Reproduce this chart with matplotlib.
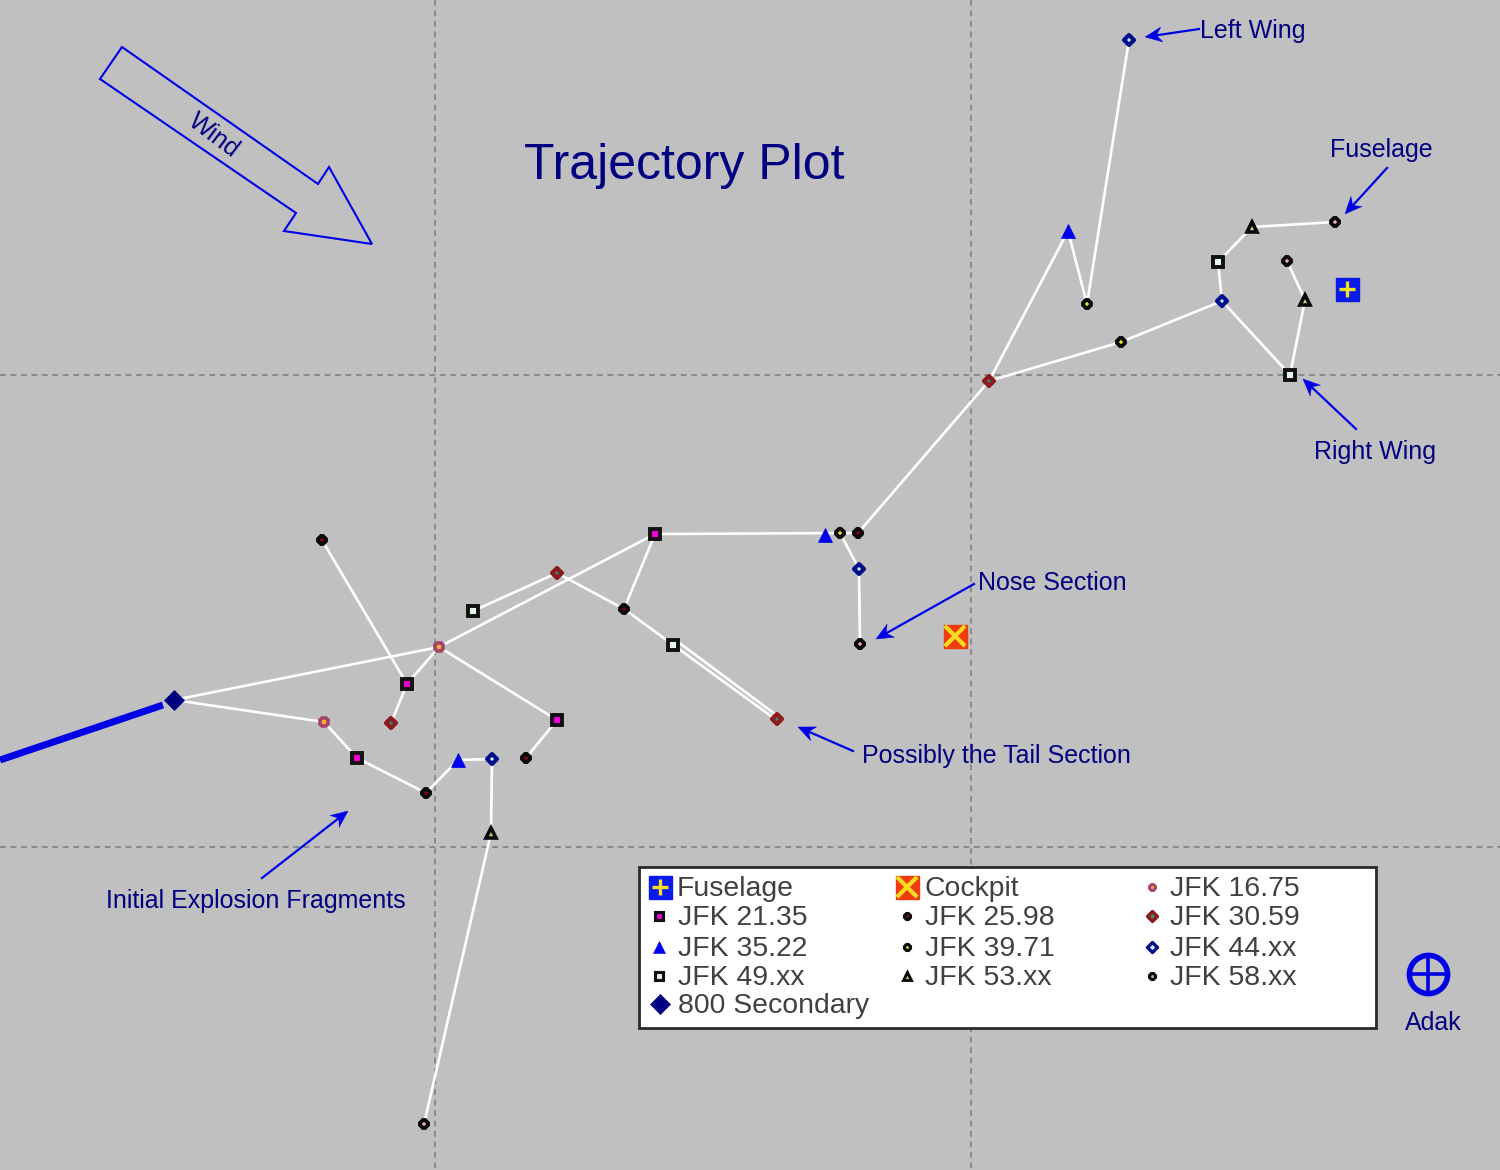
import matplotlib
matplotlib.use('Agg')
import numpy as np
import matplotlib.pyplot as plt
from matplotlib.markers import MarkerStyle
from matplotlib.patches import Polygon, Rectangle

plt.rcParams['font.family'] = ['Liberation Sans', 'DejaVu Sans']

BG = '#c0c0c0'
NAVY = '#000080'
BLUE = '#0000e6'

grid_x = [435, 971]
grid_y = [375, 847]

# white connecting tracks
track_a = [(174, 700), (324, 722), (357, 758), (426, 793), (458, 760), (492, 759), (491, 833), (424, 1124)]
track_b = [(174, 700), (439, 647), (407, 684), (322, 540)]
track_c = [(407, 684), (391, 723)]
track_d = [(439, 647), (557, 720), (526, 758)]
track_e = [(439, 647), (655, 534), (624, 609), (775, 719)]
track_j = [(473, 611), (557, 573), (624, 609)]
track_k = [(674, 639), (775, 714)]
track_f = [(655, 534), (858, 533), (989, 381), (1068, 231), (1087, 304), (1129, 40)]
track_g = [(989, 381), (1121, 342), (1222, 301), (1218, 262), (1252, 227), (1335, 222)]
track_h = [(1222, 301), (1290, 375), (1305, 300), (1287, 261)]
track_i = [(840, 533), (859, 569), (860, 644)]
tracks = [track_a, track_b, track_c, track_d, track_e, track_j, track_k, track_f, track_g, track_h, track_i]

# breakup points for each series
jfk_1675 = [(324, 722), (439, 647)]
jfk_2135 = [(357, 758), (407, 684), (557, 720), (655, 534)]
jfk_2598 = [(426, 793), (322, 540), (526, 758), (624, 609), (858, 533)]
jfk_3059 = [(391, 723), (557, 573), (777, 719), (989, 381)]
jfk_3522 = [(458, 760), (825, 535), (1068, 231)]
jfk_3971 = [(840, 533), (1087, 304), (1121, 342)]
jfk_44 = [(492, 759), (859, 569), (1222, 301), (1129, 40)]
jfk_49 = [(473, 611), (673, 645), (1218, 262), (1290, 375)]
jfk_53 = [(491, 833), (1252, 227), (1305, 300)]
jfk_58 = [(424, 1124), (860, 644), (1335, 222), (1287, 261)]
secondary = [(174, 700)]
fuselage = [(1347, 289)]
cockpit = [(955, 636)]
adak = [(1428, 974)]

approach_x = [0, 163]
approach_y = [760, 705]

# name, points, marker, size, edge, face, edge width
series = [
    ('JFK 16.75', jfk_1675, '8', 6.0, '#a5436b', '#f2b233', 2.6),
    ('JFK 21.35', jfk_2135, 's', 6.5, '#111111', '#ee00d0', 2.8),
    ('JFK 25.98', jfk_2598, '8', 5.5, '#0a0a0a', '#8a0010', 2.8),
    ('JFK 30.59', jfk_3059, 'D', 5.5, '#8c1c1c', '#3f7f80', 3.0),
    ('JFK 35.22', jfk_3522, '^', 10.5, '#0000ee', '#0000ee', 0.5),
    ('JFK 39.71', jfk_3971, '8', 5.5, '#0a0a0a', '#e8e020', 2.8),
    ('JFK 44.xx', jfk_44, 'D', 5.5, '#00108c', '#d8e8ff', 3.0),
    ('JFK 49.xx', jfk_49, 's', 6.5, '#111111', '#e4f8e8', 2.8),
    ('JFK 53.xx', jfk_53, '^', 7.5, '#0a0a0a', '#d8d070', 2.6),
    ('JFK 58.xx', jfk_58, '8', 5.5, '#0a0a0a', '#f0a8c8', 2.8),
]

wind_arrow = [(122, 47), (100, 79), (296, 213), (284, 231), (372, 244), (329, 167), (318, 184)]

# label, text x, text y, alignment, arrow start, arrow tip
callouts = [
    ('Left Wing', 1200, 31, 'left', (1199, 29), (1145, 37)),
    ('Fuselage', 1381, 150, 'center', (1387, 168), (1345, 214)),
    ('Right Wing', 1375, 452, 'center', (1356, 429), (1303, 379)),
    ('Nose Section', 978, 583, 'left', (974, 584), (876, 639)),
    ('Possibly the Tail Section', 862, 756, 'left', (853, 751), (798, 727)),
    ('Initial Explosion Fragments', 106, 901, 'left', (262, 878), (348, 811)),
]

legend_box = (639, 867, 737, 161)
legend_rows = [887, 916, 947, 976, 1004]
legend_marker_x = [659, 907, 1152]
legend_text_x = [678, 925, 1170]
# series index -> (column, row)
legend_layout = {1: (0, 1), 4: (0, 2), 7: (0, 3),
                 0: (2, 0), 3: (2, 1), 6: (2, 2), 9: (2, 3),
                 2: (1, 1), 5: (1, 2), 8: (1, 3)}


def fuselage_icon(ax, x, y, size=23):
    h = size / 2
    ax.add_patch(Rectangle((x - h, y - h), size, size, fc='#0a1aee', ec='#0a1aee', zorder=6))
    ax.plot([x - h * 0.7, x + h * 0.7], [y, y], color='#f5e020', lw=2.4, zorder=7, solid_capstyle='butt')
    ax.plot([x, x], [y - h * 0.7, y + h * 0.7], color='#f5e020', lw=2.4, zorder=7, solid_capstyle='butt')


def cockpit_icon(ax, x, y, size=23):
    h = size / 2
    ax.add_patch(Rectangle((x - h, y - h), size, size, fc='#f03a10', ec='#f03a10', zorder=6))
    ax.plot([x - h * 0.75, x + h * 0.75], [y - h * 0.75, y + h * 0.75], color='#f8dc20', lw=3, zorder=7)
    ax.plot([x - h * 0.75, x + h * 0.75], [y + h * 0.75, y - h * 0.75], color='#f8dc20', lw=3, zorder=7)


def barbed_arrow(ax, start, tip, length=17, half_width=7.5):
    # swept back head, the plain matplotlib heads have no notch
    start = np.array(start, dtype=float)
    tip = np.array(tip, dtype=float)
    u = (tip - start) / np.linalg.norm(tip - start)
    n = np.array([-u[1], u[0]])
    neck = tip - 0.68 * length * u
    ax.plot([start[0], neck[0]], [start[1], neck[1]], color=BLUE, lw=1.6, zorder=8)
    head = [tip, tip - length * u + half_width * n, neck, tip - length * u - half_width * n]
    ax.add_patch(Polygon(head, closed=True, fc=BLUE, ec=BLUE, lw=0.3, zorder=8))


def marker_style(marker):
    if marker == 'D':
        return MarkerStyle(marker, joinstyle='round')
    return marker


fig = plt.figure(figsize=(15, 11.7), dpi=100, facecolor=BG)
ax = fig.add_axes([0, 0, 1, 1])
ax.set_xlim(0, 1500)
ax.set_ylim(1170, 0)
ax.set_facecolor(BG)
ax.axis('off')

# dashed crosshair lines
for gx in grid_x:
    ax.plot([gx, gx], [0, 1170], color='#868686', lw=1.3, dashes=(3.2, 2.6), zorder=1)
for gy in grid_y:
    ax.plot([0, 1500], [gy, gy], color='#868686', lw=1.3, dashes=(3.2, 2.6), zorder=1)

for track in tracks:
    ax.plot([p[0] for p in track], [p[1] for p in track], color='white', lw=1.9, zorder=2)

ax.plot(approach_x, approach_y, color=BLUE, lw=5, solid_capstyle='butt', zorder=2)

for name, pts, marker, size, edge, face, ew in series:
    ax.plot([p[0] for p in pts], [p[1] for p in pts], ls='none', marker=marker_style(marker), ms=size,
            mec=edge, mfc=face, mew=ew, zorder=4, label=name)

ax.plot([p[0] for p in secondary], [p[1] for p in secondary], ls='none', marker='D', ms=10,
        mfc=NAVY, mec=NAVY, mew=0.5, zorder=5)
fuselage_icon(ax, fuselage[0][0], fuselage[0][1])
cockpit_icon(ax, cockpit[0][0], cockpit[0][1])

# wind arrow
ax.add_patch(Polygon(wind_arrow, closed=True, fill=False, ec=BLUE, lw=1.5, zorder=3))
ax.text(214, 136, 'Wind', color=NAVY, fontsize=18, rotation=-37, ha='center', va='center', rotation_mode='anchor')

ax.text(684, 166, 'Trajectory Plot', color=NAVY, fontsize=36, ha='center', va='center')

for label, tx, ty, ha, start, tip in callouts:
    ax.text(tx, ty, label, color=NAVY, fontsize=18, ha=ha, va='center', zorder=8)
    barbed_arrow(ax, start, tip)

# legend box, laid out by hand because the columns are not evenly spaced
ax.add_patch(Rectangle(legend_box[:2], legend_box[2], legend_box[3], fc='white', ec='#2a2a2a', lw=2, zorder=5))
legend_grey = '#404040'
text_shift = 2
fuselage_icon(ax, legend_marker_x[0] + 1, legend_rows[0])
ax.text(legend_text_x[0] - 1, legend_rows[0] + text_shift, 'Fuselage', fontsize=20.4, color=legend_grey, va='center', zorder=7)
cockpit_icon(ax, legend_marker_x[1], legend_rows[0])
ax.text(legend_text_x[1], legend_rows[0] + text_shift, 'Cockpit', fontsize=20.4, color=legend_grey, va='center', zorder=7)
for i, (col, row) in legend_layout.items():
    name, _, marker, size, edge, face, ew = series[i]
    ax.plot(legend_marker_x[col], legend_rows[row], ls='none', marker=marker_style(marker), ms=size * 0.85,
            mec=edge, mfc=face, mew=ew * 0.8, zorder=7)
    ax.text(legend_text_x[col], legend_rows[row] + text_shift, name, fontsize=20.4, color=legend_grey, va='center', zorder=7)
ax.plot(legend_marker_x[0] + 1, legend_rows[4], ls='none', marker='D', ms=10, mfc=NAVY, mec=NAVY, mew=0.5, zorder=7)
ax.text(legend_text_x[0], legend_rows[4] + text_shift, '800 Secondary', fontsize=20.4, color=legend_grey, va='center', zorder=7)

# Adak symbol
ax.plot(adak[0][0], adak[0][1], ls='none', marker='o', ms=27.5, mfc='none', mec=BLUE, mew=4, zorder=6)
ax.plot(adak[0][0], adak[0][1], ls='none', marker='+', ms=28, mec=BLUE, mew=2.6, zorder=6)
ax.text(1433, 1023, 'Adak', color=NAVY, fontsize=18, ha='center', va='center')

fig.savefig('out.png', dpi=100, facecolor=BG)
